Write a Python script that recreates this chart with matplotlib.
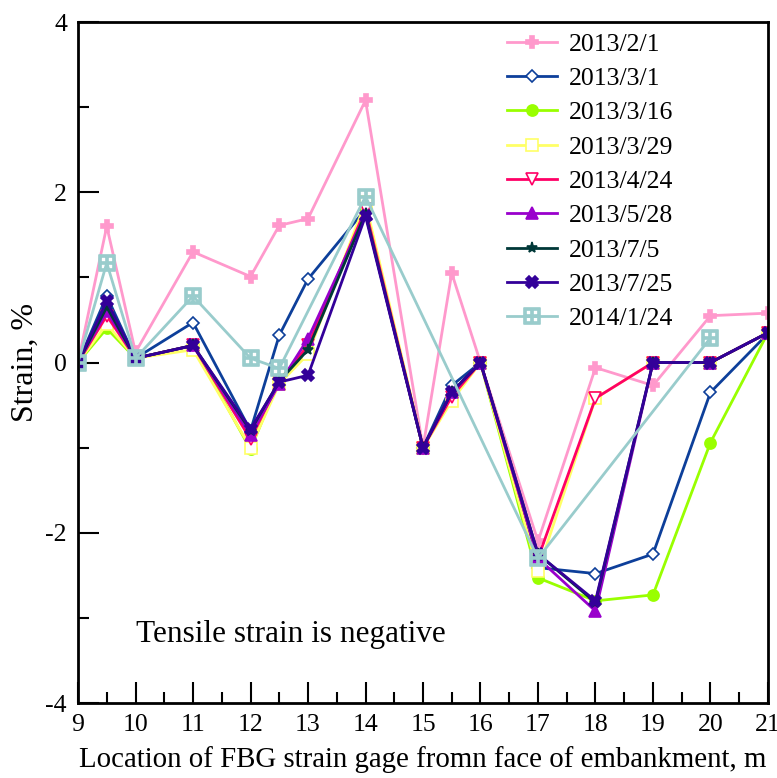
import numpy as np
import matplotlib
matplotlib.use('Agg')
import matplotlib.pyplot as plt

plt.rcParams['font.family'] = ['Liberation Serif', 'DejaVu Serif']
plt.rcParams['axes.unicode_minus'] = False

# posições dos sensores (m)
x = [9, 9.5, 10, 11, 12, 12.5, 13, 14, 15, 15.5, 16, 17, 18, 19, 20, 21]

s_2013_02_01 = [0, 1.6, 0.12, 1.3, 1.01, 1.61, 1.69, 3.08, -1.0, 1.05, 0, -2.1, -0.06, -0.27, 0.55, 0.58]
s_2013_03_01 = [0, 0.78, 0.05, 0.47, -0.8, 0.32, 0.98, 1.8, -1.0, -0.27, 0, -2.41, -2.48, -2.25, -0.35, 0.34]
s_2013_03_16 = [0, 0.4, 0.05, 0.2, -1.02, -0.2, 0.15, 1.8, -1.0, -0.4, 0, -2.53, -2.8, -2.73, -0.94, 0.35]
s_2013_03_29 = [0, 0.45, 0.05, 0.15, -1.0, -0.25, 0.1, 1.88, -1.0, -0.45, 0, -2.45, -0.42, 0, 0, 0.35]
s_2013_04_24 = [0, 0.55, 0.05, 0.2, -0.9, -0.22, 0.2, 1.8, -1.0, -0.4, 0, -2.3, -0.42, 0, 0, 0.35]
s_2013_05_28 = [0, 0.6, 0.05, 0.2, -0.85, -0.25, 0.28, 1.75, -1.0, -0.35, 0, -2.3, -2.92, 0, 0, 0.35]
s_2013_07_05 = [0, 0.65, 0.05, 0.2, -0.8, -0.22, 0.15, 1.75, -1.0, -0.35, 0, -2.25, -2.82, 0, 0, 0.35]
s_2013_07_25 = [0, 0.72, 0.05, 0.2, -0.78, -0.23, -0.15, 1.72, -1.0, -0.35, 0, -2.25, -2.8, 0, 0, 0.35]
s_2014_01_24 = [0, 1.17, 0.05, 0.78, 0.05, -0.07, None, 1.95, None, None, None, -2.3, None, None, 0.29, None]

series = [
    ('2013/2/1', s_2013_02_01, '#FF99CC', 'P', True),
    ('2013/3/1', s_2013_03_01, '#0D3F9A', 'D', False),
    ('2013/3/16', s_2013_03_16, '#99FF00', 'o', True),
    ('2013/3/29', s_2013_03_29, '#FFFF66', 's', False),
    ('2013/4/24', s_2013_04_24, '#FF0066', 'v', False),
    ('2013/5/28', s_2013_05_28, '#9900CC', '^', True),
    ('2013/7/5', s_2013_07_05, '#003838', '*', True),
    ('2013/7/25', s_2013_07_25, '#330099', 'X', True),
    ('2014/1/24', s_2014_01_24, '#99CCCC', '$\u229E$', True),
]

fig = plt.figure(figsize=(7.77, 7.78), dpi=100)
ax = fig.add_axes([0.1004, 0.0964, 0.888, 0.8753])

for nome, vals, cor, mk, cheio in series:
    v = np.array([np.nan if a is None else a for a in vals], dtype=float)
    ok = ~np.isnan(v)
    xs = np.array(x)[ok]
    ys = v[ok]
    ms = 8
    if mk == 'D':
        ms = 6
    if mk == '$\u229E$':
        ms = 11
    ax.plot(xs, ys, color=cor, lw=2.0, marker=mk, markersize=ms,
            markerfacecolor=cor if cheio else 'white',
            markeredgecolor=cor, markeredgewidth=1.2, label=nome)

ax.set_xlim(9, 21)
ax.set_ylim(-4, 4)
ax.set_xticks(range(9, 22))
ax.set_xticks(np.arange(9.5, 21, 1), minor=True)
ax.set_yticks([-4, -2, 0, 2, 4])
ax.set_yticks([-3, -1, 1, 3], minor=True)
ax.tick_params(which='major', direction='in', length=15, width=1.5, labelsize=18.5, pad=8)
ax.tick_params(which='minor', direction='in', length=8, width=1.5)
for sp in ax.spines.values():
    sp.set_linewidth(2)

ax.set_xlabel('Location of FBG strain gage fromn face of embankment, m', fontsize=20.8, labelpad=7)
ax.set_ylabel('Strain, %', fontsize=23, labelpad=4)

ax.text(10, -3.2, 'Tensile strain is negative', fontsize=22.5, va='center')

ax.legend(loc='upper left', frameon=False, fontsize=18.5, handlelength=1.95,
          handletextpad=0.47, labelspacing=0.44, borderpad=0, borderaxespad=0,
          bbox_to_anchor=(0.622, 0.984))

plt.savefig('out.png', dpi=100, facecolor='white')
